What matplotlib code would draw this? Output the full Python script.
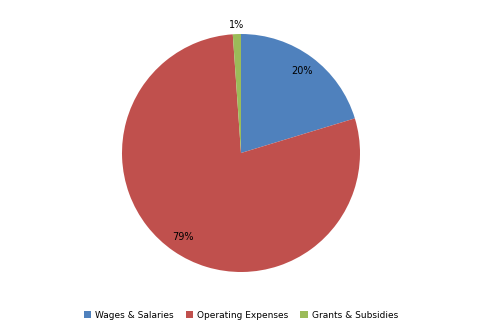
import matplotlib
matplotlib.use("Agg")
import matplotlib.pyplot as plt

categories = ["Wages & Salaries", "Operating Expenses", "Grants & Subsidies"]
values = [20.3, 78.6, 1.1]
colors = ["#4F81BD", "#C0504D", "#9BBB59"]

fig = plt.figure(figsize=(4.82, 3.35), dpi=100)
W, H = 482, 335
cx, cy, r = 241, 153, 119
ax = fig.add_axes([(cx - r) / W, (H - cy - r) / H, 2 * r / W, 2 * r / H])
wedges, texts, autotexts = ax.pie(values, colors=colors, startangle=90, counterclock=False,
                                  autopct=lambda p: f"{p:.0f}%", pctdistance=0.86,
                                  textprops=dict(fontsize=7, color="black"))
# small slice label outside
x, y = autotexts[2].get_position()
autotexts[2].set_position((x * 1.08 / 0.86, y * 1.08 / 0.86))
ax.set_xlim(-1, 1)
ax.set_ylim(-1, 1)
ax.set_aspect("equal")

fig.legend(wedges, categories, loc="center", bbox_to_anchor=(0.5, 20 / H), ncol=3,
           frameon=False, fontsize=6.5, handlelength=0.8, handleheight=0.8,
           handletextpad=0.5, columnspacing=1.3)
fig.savefig("out.png", dpi=100)
